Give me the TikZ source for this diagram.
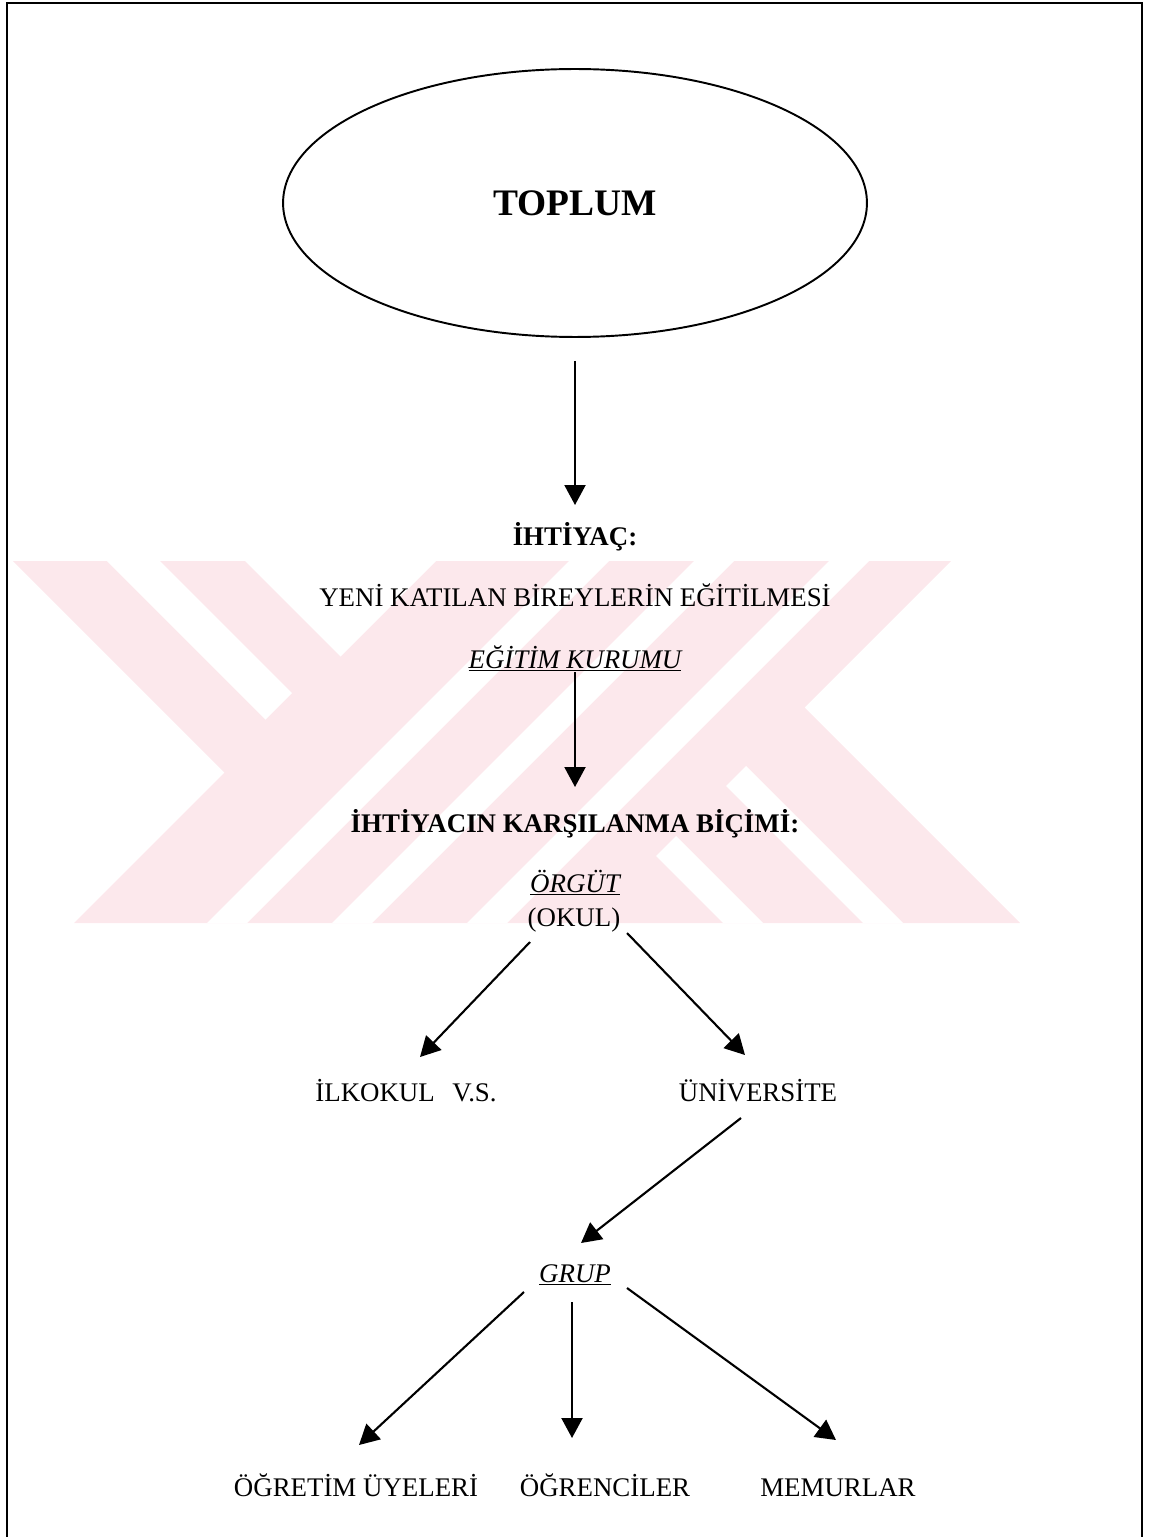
\documentclass[tikz,border=0pt]{standalone}
\usepackage{fontspec}
\setmainfont{Liberation Serif}
\usetikzlibrary{arrows.meta, shapes.geometric, calc}

\definecolor{wmpink}{RGB}{252,232,236}
\tikzset{
    frame/.style={line width=1.1pt},
    society/.style={draw, ellipse, line width=1.1pt, minimum width=11.68cm, minimum height=5.36cm, font=\fontsize{21.3}{25}\selectfont\bfseries},
    lbl/.style={inner sep=0, anchor=base, font=\fontsize{15.3}{18}\selectfont},
    lblb/.style={lbl, font=\fontsize{15.3}{18}\selectfont\bfseries},
    arr/.style={line width=1.2pt, -{Triangle[length=0.4cm, width=0.42cm]}},
    wm/.style={fill=wmpink, draw=none},
    gap/.style={fill=white, draw=none},
    }

\begin{document}
\begin{tikzpicture}[x=0.02cm, y=-0.02cm]
    \useasboundingbox (0,0) rectangle (1151,1537);

    % watermark behind everything
    \fill[wm] (13,561) -- (951,561) -- (804.5,707.5) -- (1020,923) -- (74,923) -- (224.5,772.5) -- cycle;
    \fill[gap] (107,561) -- (160,561) -- (292,693) -- (265.5,719.5) -- cycle;
    \fill[gap] (245,561) -- (436,561) -- (340.5,656.5) -- cycle;
    \foreach \s in {1130,1255,1390}
        \fill[gap] (\s-561,561) -- (\s-521,561) -- (\s-883,923) -- (\s-923,923) -- cycle;
    \fill[gap] (746,766) -- (903,923) -- (863,923) -- (726,786) -- cycle;
    \fill[gap] (676,836) -- (763,923) -- (723,923) -- (656,856) -- cycle;

    % page frame
    \draw[frame] (7,1537) -- (7,3) -- (1142,3) -- (1142,1537);

    % labels
    \node[society] (toplum) at (575,203) {TOPLUM};
    \node[lblb] (ihtiyac) at (575,545) {İHTİYAÇ:};
    \node[lbl] (yeni) at (575,606) {YENİ KATILAN BİREYLERİN EĞİTİLMESİ};
    \node[lbl] (kurum) at (575,668) {\textit{\underline{EĞİTİM KURUMU}}};
    \node[lblb] (bicim) at (575,832) {İHTİYACIN KARŞILANMA BİÇİMİ:};
    \node[lbl] (orgut) at (575,892) {\textit{\underline{ÖRGÜT}}};
    \node[lbl] (okul) at (574,926) {(OKUL)};
    \node[lbl] (ilkokul) at (406,1101) {İLKOKUL\hspace{0.65em}V.S.};
    \node[lbl] (univ) at (758,1101) {ÜNİVERSİTE};
    \node[lbl] (grup) at (575,1282) {\textit{\underline{GRUP}}};
    \node[lbl] (ogretim) at (356,1496) {ÖĞRETİM ÜYELERİ};
    \node[lbl] (ogrenci) at (605,1496) {ÖĞRENCİLER};
    \node[lbl] (memur) at (838,1496) {MEMURLAR};

    % arrows
    \draw[arr, shorten <=0.46cm] (toplum.south) -- ($(ihtiyac.base)+(0,-40)$);
    \draw[arr] (kurum.south) -- ($(bicim.base)+(0,-45)$);
    \draw[arr] ($(okul.base)+(-44,16)$) -- ($(ilkokul.base)+(14,-44)$);
    \draw[arr] ($(okul.base)+(53,7)$) -- ($(univ.base)+(-13,-46)$);
    \draw[arr] ($(univ.base)+(-17,17)$) -- ($(grup.base)+(6,-39)$);
    \draw[arr] ($(grup.base)+(-51,10)$) -- ($(ogretim.base)+(3,-51)$);
    \draw[arr] ($(grup.base)+(-3,20)$) -- ($(ogrenci.base)+(-33,-58)$);
    \draw[arr] ($(grup.base)+(52,6)$) -- ($(memur.base)+(-2,-56)$);
\end{tikzpicture}
\end{document}
